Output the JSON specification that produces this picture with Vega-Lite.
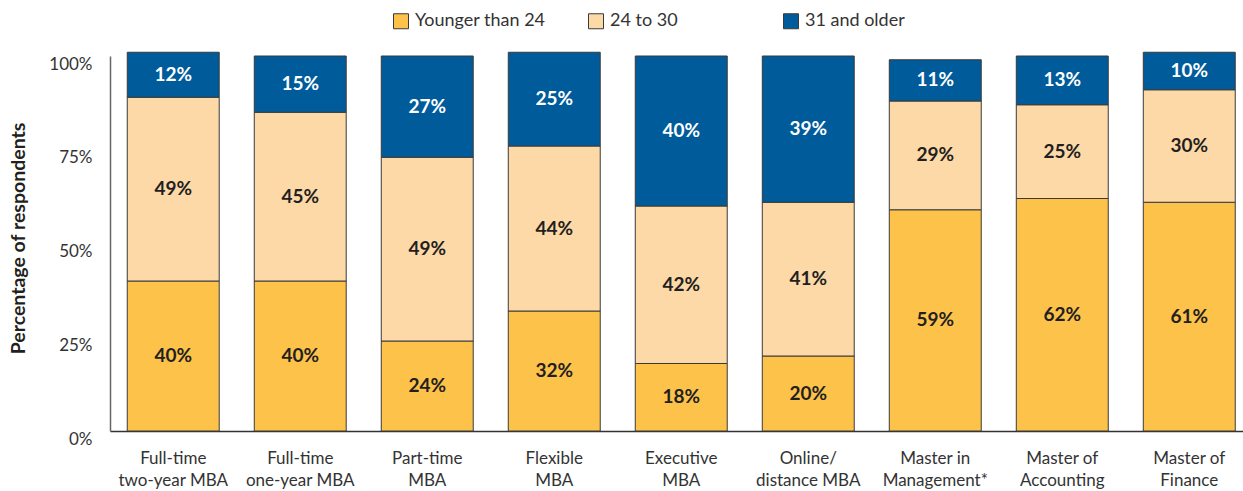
{
  "$schema": "https://vega.github.io/schema/vega-lite/v6.json",
  "width": 1133,
  "height": 375,
  "autosize": "none",
  "padding": {"left": 110, "top": 56, "right": 0, "bottom": 60},
  "config": {"view": {"stroke": null}, "font": "Lato", "background": "white"},
  "data": {
    "values": [
      {"program": "Full-time\ntwo-year MBA", "age": "Younger than 24", "order": 1, "pct": 0.40},
      {"program": "Full-time\ntwo-year MBA", "age": "24 to 30", "order": 2, "pct": 0.49},
      {"program": "Full-time\ntwo-year MBA", "age": "31 and older", "order": 3, "pct": 0.12},
      {"program": "Full-time\none-year MBA", "age": "Younger than 24", "order": 1, "pct": 0.40},
      {"program": "Full-time\none-year MBA", "age": "24 to 30", "order": 2, "pct": 0.45},
      {"program": "Full-time\none-year MBA", "age": "31 and older", "order": 3, "pct": 0.15},
      {"program": "Part-time\nMBA", "age": "Younger than 24", "order": 1, "pct": 0.24},
      {"program": "Part-time\nMBA", "age": "24 to 30", "order": 2, "pct": 0.49},
      {"program": "Part-time\nMBA", "age": "31 and older", "order": 3, "pct": 0.27},
      {"program": "Flexible\nMBA", "age": "Younger than 24", "order": 1, "pct": 0.32},
      {"program": "Flexible\nMBA", "age": "24 to 30", "order": 2, "pct": 0.44},
      {"program": "Flexible\nMBA", "age": "31 and older", "order": 3, "pct": 0.25},
      {"program": "Executive\nMBA", "age": "Younger than 24", "order": 1, "pct": 0.18},
      {"program": "Executive\nMBA", "age": "24 to 30", "order": 2, "pct": 0.42},
      {"program": "Executive\nMBA", "age": "31 and older", "order": 3, "pct": 0.40},
      {"program": "Online/\ndistance MBA", "age": "Younger than 24", "order": 1, "pct": 0.20},
      {"program": "Online/\ndistance MBA", "age": "24 to 30", "order": 2, "pct": 0.41},
      {"program": "Online/\ndistance MBA", "age": "31 and older", "order": 3, "pct": 0.39},
      {"program": "Master in\nManagement*", "age": "Younger than 24", "order": 1, "pct": 0.59},
      {"program": "Master in\nManagement*", "age": "24 to 30", "order": 2, "pct": 0.29},
      {"program": "Master in\nManagement*", "age": "31 and older", "order": 3, "pct": 0.11},
      {"program": "Master of\nAccounting", "age": "Younger than 24", "order": 1, "pct": 0.62},
      {"program": "Master of\nAccounting", "age": "24 to 30", "order": 2, "pct": 0.25},
      {"program": "Master of\nAccounting", "age": "31 and older", "order": 3, "pct": 0.13},
      {"program": "Master of\nFinance", "age": "Younger than 24", "order": 1, "pct": 0.61},
      {"program": "Master of\nFinance", "age": "24 to 30", "order": 2, "pct": 0.30},
      {"program": "Master of\nFinance", "age": "31 and older", "order": 3, "pct": 0.10}
    ]
  },
  "transform": [
    {"stack": "pct", "groupby": ["program"], "sort": [{"field": "order", "order": "ascending"}], "as": ["v0", "v1"]}
  ],
  "encoding": {
    "x": {
      "field": "program",
      "type": "nominal",
      "sort": null,
      "scale": {"paddingInner": 0.276, "paddingOuter": 0.0985, "align": 0.69},
      "axis": {
        "title": null,
        "labelAngle": 0,
        "ticks": false,
        "tickSize": 0,
        "labelFontSize": 17,
        "labelColor": "#333333",
        "labelPadding": 19,
        "labelLineHeight": 22,
        "labelLimit": 400,
        "labelExpr": "split(datum.label, '\\n')",
        "domainColor": "#333333",
        "domainWidth": 1.5
      }
    }
  },
  "layer": [
    {
      "mark": {"type": "bar", "stroke": "#3a3a3a", "strokeWidth": 1},
      "encoding": {
        "y": {
          "field": "v0",
          "type": "quantitative",
          "scale": {"domain": [0, 1], "nice": false},
          "axis": {
            "title": "Percentage of respondents",
            "values": [0, 0.25, 0.5, 0.75, 1],
            "format": ".0%",
            "grid": false,
            "ticks": false,
            "tickSize": 0,
            "labelFontSize": 17,
            "labelColor": "#333333",
            "labelPadding": 18,
            "labelOffset": 8,
            "labelFlush": false,
            "labelOverlap": false,
            "domainColor": "#666666",
            "domainWidth": 1.5,
            "titleFontSize": 19.5,
            "titleFontWeight": "bold",
            "titleColor": "#231f20",
            "titleX": -92,
            "titleY": 182,
            "titleAlign": "center",
            "titleBaseline": "middle"
          }
        },
        "y2": {"field": "v1"},
        "color": {
          "field": "age",
          "type": "nominal",
          "scale": {
            "domain": ["Younger than 24", "24 to 30", "31 and older"],
            "range": ["#fdc24a", "#fdd9a8", "#005b9a"]
          },
          "legend": {
            "title": null,
            "orient": "none",
            "legendX": 282,
            "legendY": -44,
            "direction": "horizontal",
            "columns": 3,
            "gridAlign": "all",
            "columnPadding": 40,
            "symbolType": "square",
            "symbolSize": 225,
            "symbolStrokeColor": "#3a3a3a",
            "symbolStrokeWidth": 1,
            "symbolOpacity": 1,
            "labelFontSize": 18,
            "labelColor": "#333333",
            "labelOffset": 5,
            "padding": 0
          }
        }
      }
    },
    {
      "transform": [{"fold": ["v0", "v1"], "as": ["k", "pos"]}],
      "mark": {"type": "text", "fontSize": 19, "fontWeight": "bold"},
      "encoding": {
        "y": {
          "aggregate": "mean",
          "field": "pos",
          "type": "quantitative",
          "axis": {
            "title": "Percentage of respondents",
            "values": [0, 0.25, 0.5, 0.75, 1],
            "format": ".0%",
            "grid": false,
            "ticks": false,
            "tickSize": 0,
            "labelFontSize": 17,
            "labelColor": "#333333",
            "labelPadding": 18,
            "labelOffset": 8,
            "labelFlush": false,
            "labelOverlap": false,
            "domainColor": "#666666",
            "domainWidth": 1.5,
            "titleFontSize": 19.5,
            "titleFontWeight": "bold",
            "titleColor": "#231f20",
            "titleX": -92,
            "titleY": 182,
            "titleAlign": "center",
            "titleBaseline": "middle"
          }
        },
        "text": {"field": "pct", "type": "quantitative", "format": ".0%"},
        "detail": {"field": "age"},
        "color": {
          "condition": {"test": "datum.age === '31 and older'", "value": "white"},
          "value": "#231f20"
        }
      }
    }
  ]
}
